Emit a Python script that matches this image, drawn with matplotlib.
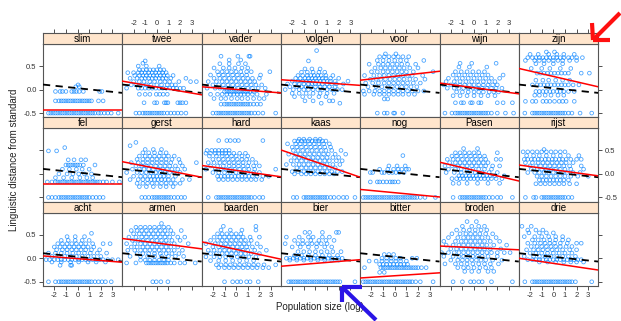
import matplotlib
matplotlib.use("Agg")
import matplotlib.pyplot as plt
from matplotlib.lines import Line2D

plt.rcParams['font.family'] = ['Liberation Sans', 'DejaVu Sans']
plt.rcParams['axes.unicode_minus'] = False

# panel order, row by row from the top
words = ["slim", "twee", "vader", "volgen", "voor", "wijn", "zijn",
         "fel", "gerst", "hard", "kaas", "nog", "Pasen", "rijst",
         "acht", "armen", "baarden", "bier", "bitter", "broden", "drie"]

# red fit per word: value at left and right edge of the x range
red_left = [-0.43, 0.18, 0.06, 0.21, 0.20, 0.14, 0.45,
            -0.21, 0.26, 0.18, 0.51, -0.33, 0.25, 0.19,
            0.05, 0.42, 0.35, -0.17, -0.42, 0.26, 0.00]
red_right = [-0.43, -0.11, -0.07, 0.09, 0.39, -0.09, 0.06,
             -0.21, -0.07, -0.06, -0.07, -0.49, -0.15, -0.04,
             -0.085, 0.20, -0.02, -0.03, -0.31, 0.18, -0.25]

# overall (dashed) fit, same in every panel
overall = [0.107, -0.07]

x_ticks = [-2, -1, 0, 1, 2, 3]
y_ticks = [-0.5, 0.0, 0.5]
y_tick_labels = ["-0.5", "0.0", "0.5"]

# points: rows of (distance, [population sizes])
slim_pts = [
    (-0.5, [-2.5, -2.3, -2.1, -1.9, -1.7, -1.5, -1.3, -1.1, -0.9, -0.7, -0.5, -0.3, -0.1, 0.1, 0.3, 0.5, 0.7, 0.9, 1.1, 1.3, 1.5, 1.8, 2.0, 2.3, 2.6, 2.9, 3.5]),
    (-0.24, [-1.9, -1.6, -1.4, -1.2, -1.0, -0.8, -0.6, -0.4, -0.2, 0.0, 0.2, 0.4, 0.6, 0.8, 1.0, 1.2, 1.8, 2.2]),
    (-0.04, [-1.9, -1.5, -1.3, -1.0, -0.5, -0.3, -0.1, 0.15, 0.5, 1.9, 2.1]),
    (0.06, [-0.15, 0.15]),
    (0.1, [0.05]),
]
twee_pts = [
    (-0.5, [-1.8, -1.5, -1.2, -1.0, -0.8, -0.6, -0.4, -0.2, 0.0, 0.2, 0.4, 0.6, 0.9, 1.2, 1.5, 1.8, 2.1, 2.5]),
    (-0.28, [-1.1, -0.2, 0.0, 0.65, 0.8, 0.95, 1.8, 2.0, 2.2, 2.5]),
    (-0.1, [-1.5, -1.0, -0.6, -0.05, 0.25, 0.55, 0.9]),
    (0.03, [-2.6, -1.6, -1.3, -1.0, -0.7, -0.4, -0.1, 0.2, 0.5, 0.8, 1.1, 1.4, 1.7, 2.0, 2.3]),
    (0.1, [-2.2, -1.8, -1.4, -0.9, -0.5, 0.0, 0.4, 0.9, 1.3, 1.6]),
    (0.17, [-2.0, -1.5, -1.1, -0.6, -0.2, 0.3, 0.7, 1.1, 1.9, 2.9, 3.4]),
    (0.24, [-2.3, -1.7, -1.3, -1.0, -0.7, -0.4, -0.1, 0.2, 0.5, 0.8, 1.2, 2.5]),
    (0.3, [-1.9, -1.5, -1.2, -0.9, -0.6, -0.3, 0.0, 0.3, 0.6, 0.9, 1.4]),
    (0.36, [-2.5, -2.0, -1.6, -1.3, -1.0, -0.7, -0.4, -0.1, 0.2, 0.5, 0.8]),
    (0.42, [-1.5, -1.2, -0.9, -0.6, -0.3, 0.0, 0.3, 0.6]),
    (0.5, [-1.6, -0.9, 0.2]),
    (0.56, [-1.2]),
    (0.61, [-1.0]),
]
vader_pts = [
    (-0.5, [-2.0, -1.7, -1.5, -1.3, -1.1, -0.9, -0.7, -0.5, -0.3, -0.1, 0.1, 0.3, 0.5, 0.7, 0.9, 1.1, 1.3, 1.6, 1.9, 2.3, 3.4]),
    (-0.31, [-1.3, -1.0, -0.8, -0.6, -0.4, -0.2, 0.0, 0.2, 0.4, 0.6, 0.8, 1.0, 1.2, 1.5, 1.8, 2.1]),
    (-0.19, [-1.9, -1.3, -0.9, -0.4, 0.1, 0.5, 1.0, 1.5, 2.0, 2.4]),
    (-0.1, [-2.2, -1.6, -1.2, -0.8, -0.5, -0.2, 0.1, 0.4, 0.7, 1.0, 1.4, 1.8, 2.6]),
    (-0.04, [-1.0, -0.8, -0.6, -0.4, -0.2, 0.0, 0.2, 0.4, 0.6, 0.8, 1.0, 1.2, 1.5]),
    (0.03, [-2.5, -1.8, -1.4, -1.0, -0.6, -0.2, 0.2, 0.6, 1.0, 1.4, 1.9, 2.5]),
    (0.1, [-2.0, -1.5, -1.1, -0.7, -0.3, 0.1, 0.5, 0.9, 1.3, 1.7, 2.2]),
    (0.17, [-2.4, -1.7, -1.2, -0.8, -0.4, 0.0, 0.4, 0.8, 1.2, 1.6]),
    (0.24, [-1.9, -1.4, -1.0, -0.6, -0.2, 0.2, 0.6, 1.0, 1.4, 2.0]),
    (0.31, [-2.2, -1.5, -1.1, -0.7, -0.3, 0.1, 0.5, 0.9, 2.1]),
    (0.38, [-1.6, -1.2, -0.8, -0.4, 0.0, 0.4, 0.9, 1.3, 2.9]),
    (0.46, [-1.9, -1.1, -0.6, -0.1, 0.5, 1.0]),
    (0.55, [-1.4, -0.6, 0.2, 0.8]),
    (0.63, [-0.6, 0.4]),
    (0.71, [-1.3, 0.15, 1.1, 1.2]),
]
volgen_pts = [
    (-0.29, [0.5, 2.1]),
    (-0.24, [-0.9, -0.2, 1.2, 1.5]),
    (-0.15, [-1.8, -1.1, -0.5, 0.3, 0.9]),
    (-0.08, [-2.0, -1.4, -0.8, -0.2, 0.4, 1.0, 1.6]),
    (0.0, [-2.6, -1.9, -1.4, -1.0, -0.6, -0.2, 0.2, 0.6, 1.0, 1.4, 1.9, 2.3]),
    (0.06, [-2.2, -1.6, -1.2, -0.8, -0.4, 0.0, 0.4, 0.8, 1.2, 1.7]),
    (0.12, [-2.4, -1.8, -1.4, -1.0, -0.6, -0.3, 0.0, 0.3, 0.6, 1.0, 1.4, 1.8, 2.4]),
    (0.18, [-2.0, -1.5, -1.1, -0.8, -0.5, -0.2, 0.1, 0.4, 0.7, 1.0, 1.3, 1.7, 2.8]),
    (0.24, [-1.7, -1.3, -0.9, -0.6, -0.3, 0.0, 0.3, 0.6, 0.9, 1.3, 2.0]),
    (0.3, [-1.5, -1.1, -0.7, -0.4, -0.1, 0.2, 0.5, 0.9, 1.5]),
    (0.37, [-1.2, -0.7, -0.2, 0.3, 0.8]),
    (0.44, [-0.9, -0.3, 0.4]),
    (0.61, [-0.6]),
    (0.83, [0.1]),
]
voor_pts = [
    (-0.5, [-1.5, -0.9, -0.65, -0.1, 0.0, 0.7]),
    (-0.2, [-0.9, -0.6]),
    (-0.1, [-2.6, -1.8, -1.3, -0.9, -0.5, -0.1, 0.3, 0.7, 1.2, 1.7]),
    (-0.03, [-2.7, -2.2, -1.7, -1.3, -0.9, -0.5, -0.1, 0.3, 0.7, 1.1, 1.5, 2.0, 2.5]),
    (0.06, [-2.3, -1.6, -1.1, -0.6, -0.2, 0.2, 0.6, 1.0, 1.4, 1.9]),
    (0.14, [-2.5, -1.9, -1.4, -0.9, -0.5, -0.1, 0.3, 0.7, 1.1, 1.6, 2.2]),
    (0.22, [-2.1, -1.6, -1.2, -0.8, -0.4, 0.0, 0.4, 0.8, 1.3, 1.8, 2.6]),
    (0.3, [-2.6, -1.8, -1.3, -0.9, -0.5, -0.1, 0.3, 0.7, 1.1, 1.5, 2.4]),
    (0.38, [-2.0, -1.5, -1.0, -0.6, -0.2, 0.2, 0.6, 1.0, 1.6, 3.3]),
    (0.46, [-1.7, -1.2, -0.8, -0.4, 0.0, 0.4, 0.8, 1.3, 2.0]),
    (0.54, [-2.2, -1.4, -1.0, -0.6, -0.2, 0.2, 0.6, 1.1, 1.8]),
    (0.62, [-1.5, -1.0, -0.5, 0.0, 0.5, 1.0, 2.5]),
    (0.7, [-1.3, -0.9, -0.5, -0.1, 0.3, 0.7, 1.2]),
    (0.76, [-0.8, 0.1]),
]
wijn_pts = [
    (-0.5, [-2.5, -1.9, -1.6, -1.4, -1.2, -1.0, -0.8, -0.6, -0.4, -0.2, 0.0, 0.2, 0.4, 0.6, 0.8, 1.0, 1.2, 1.5, 2.0, 2.7, 3.4]),
    (-0.28, [-1.6, -1.1, -0.9, -0.3, -0.15, 0.4, 0.6, 2.0, 2.5, 3.3]),
    (-0.13, [-1.8, -1.2, -0.6, 0.0, 0.6, 1.2, 1.8]),
    (-0.05, [-1.5, -1.0, -0.5, 0.0, 0.4, 0.8, 1.3, 1.7, 2.1]),
    (0.03, [-2.3, -1.7, -1.3, -0.9, -0.5, -0.1, 0.3, 0.7, 1.1, 1.5, 1.9, 2.4]),
    (0.1, [-2.6, -2.0, -1.6, -1.2, -0.8, -0.4, 0.0, 0.4, 0.8, 1.2, 1.6, 2.0]),
    (0.17, [-2.4, -1.7, -1.2, -0.7, -0.2, 0.3, 0.8, 1.3, 1.8]),
    (0.24, [-2.2, -1.5, -1.0, -0.5, 0.0, 0.5, 1.0, 1.5, 2.2]),
    (0.31, [-1.8, -1.3, -0.8, -0.3, 0.2, 0.7, 1.2, 2.5]),
    (0.38, [-1.6, -1.1, -0.6, -0.1, 0.4, 0.9]),
    (0.48, [-1.3, -0.4, 1.1]),
    (0.56, [-1.2, -0.2, 1.9]),
]
zijn_pts = [
    (-0.5, [-2.45, -1.8, -1.6, -1.4, -1.2, -1.0, -0.8, -0.6, -0.4, -0.2, 0.0, 0.2, 0.4, 0.6, 0.8, 1.0, 1.3, 1.6, 2.3, 3.3]),
    (-0.25, [-2.4, -1.8, -1.5, -0.9, -0.6, -0.3, 0.1, 0.5, 0.8, 1.1, 1.8]),
    (-0.12, [-1.6, -1.2, -0.7, -0.2, 0.4, 0.9]),
    (-0.04, [-1.5, -1.2, -0.9, -0.6, -0.3, 0.0, 0.3, 0.6, 0.9, 1.3, 1.8]),
    (0.1, [-1.8, -1.4, -1.1, -0.8, -0.5, -0.2, 0.1, 0.4, 0.7, 1.0, 1.3, 1.7, 2.2]),
    (0.2, [-1.5, -0.9, -0.4, 0.2, 0.8, 1.4]),
    (0.35, [-1.4, -1.1, -0.8, -0.5, -0.2, 0.1, 0.4, 0.7, 1.0, 1.3, 2.4, 3.1]),
    (0.45, [-1.9, -1.0, -0.3, 0.6, 1.5]),
    (0.55, [-1.5, -0.8, 0.0, 0.8]),
    (0.62, [-2.4, -1.6, -1.2, -0.8, -0.4, 0.0, 0.4, 0.8, 1.4, 2.0]),
    (0.68, [-2.2, -1.8, -1.5, -1.2, -0.9, -0.6, -0.3, 0.0, 0.3, 0.6, 0.9, 1.3, 1.6, 2.0, 2.5]),
    (0.75, [-2.0, -1.3, -0.4, 0.3, 0.9, 1.8]),
    (0.8, [-0.6, 0.1]),
]
fel_pts = [
    (-0.5, [-2.5, -2.2, -1.9, -1.6, -1.4, -1.2, -1.0, -0.8, -0.6, -0.4, -0.2, 0.0, 0.2, 0.4, 0.6, 0.8, 1.0, 1.3, 1.6, 1.9, 2.2]),
    (-0.17, [-2.6, -2.2, -1.9, -1.7, -1.5, -1.3, -1.1, -0.9, -0.7, -0.5, -0.3, -0.1, 0.1, 0.3, 0.5, 0.7, 0.9, 1.1, 1.3, 1.5, 1.7, 1.9, 2.2, 2.5, 3.0, 3.6]),
    (-0.08, [-1.9, -1.2, -0.5, 0.2, 0.8, 1.3]),
    (0.0, [-1.6, -0.9, -0.4, 0.1, 0.6, 1.2]),
    (0.1, [-1.3, -0.7, -0.1, 0.4, 1.0]),
    (0.19, [-1.0, -0.8, -0.6, -0.4, -0.2, 0.0, 0.2, 0.5, 1.5]),
    (0.3, [-0.8, -0.3, 0.3, 0.7]),
    (0.49, [-2.5, -1.8]),
    (0.56, [-1.1]),
]
gerst_pts = [
    (-0.5, [-1.3, -1.0, -0.7, -0.4, -0.2, 0.0, 0.2, 0.4, 0.6, 0.8, 1.0, 1.2, 1.5, 1.8, 2.1, 2.4]),
    (-0.27, [-1.5, -0.9, -0.3, 0.3, 0.8, 1.4]),
    (-0.2, [-1.7, -1.2, -0.8, -0.4, 0.0, 0.4, 0.8, 1.2, 1.6, 2.0]),
    (-0.12, [-2.3, -1.6, -1.2, -0.8, -0.5, -0.2, 0.1, 0.4, 0.7, 1.0, 1.4, 2.2, 2.8]),
    (-0.05, [-2.0, -1.4, -1.0, -0.6, -0.3, 0.0, 0.3, 0.6, 1.0, 1.6]),
    (0.03, [-2.6, -1.7, -1.3, -0.9, -0.5, -0.1, 0.3, 0.7, 1.1, 1.5, 2.0]),
    (0.1, [-2.1, -1.5, -1.1, -0.7, -0.3, 0.1, 0.5, 0.9, 1.3, 1.8, 2.4]),
    (0.17, [-1.8, -1.3, -0.9, -0.5, -0.1, 0.3, 0.7, 1.1, 1.6, 2.2]),
    (0.24, [-2.2, -1.6, -1.2, -0.8, -0.4, 0.0, 0.4, 0.8, 1.2, 2.0, 3.4]),
    (0.31, [-1.7, -1.2, -0.8, -0.4, 0.0, 0.4, 0.8, 1.3, 1.9]),
    (0.38, [-1.5, -1.0, -0.6, -0.2, 0.2, 0.6, 1.0, 1.5]),
    (0.45, [-1.2, -0.7, -0.2, 0.3, 0.8]),
    (0.52, [-1.0, -0.3, 0.4]),
    (0.6, [-2.3]),
    (0.67, [-1.8]),
]
hard_pts = [
    (-0.5, [-2.4, -1.7, -1.5, -1.3, -1.1, -0.9, -0.7, -0.5, -0.3, -0.1, 0.1, 0.3, 0.5, 0.7, 0.9, 1.1, 1.3, 1.6, 2.0, 2.3]),
    (-0.12, [-1.5, -1.1, -0.7, -0.3, 0.1, 0.5, 0.9, 1.3, 1.7, 2.2]),
    (-0.05, [-1.6, -1.3, -1.0, -0.7, -0.4, -0.1, 0.2, 0.5, 0.8, 1.1, 1.4, 1.8, 2.3, 2.8]),
    (0.03, [-2.0, -1.5, -1.0, -0.5, 0.0, 0.5, 1.0, 1.5, 2.0]),
    (0.1, [-2.6, -1.8, -1.3, -0.9, -0.5, -0.1, 0.3, 0.7, 1.1, 1.6, 3.4]),
    (0.17, [-2.2, -1.6, -1.1, -0.6, -0.2, 0.2, 0.6, 1.0, 1.5, 2.0]),
    (0.24, [-2.4, -1.9, -1.4, -1.0, -0.6, -0.2, 0.2, 0.6, 1.1, 1.7]),
    (0.31, [-2.0, -1.5, -1.1, -0.7, -0.3, 0.1, 0.5, 0.9, 1.4]),
    (0.38, [-2.3, -1.7, -1.2, -0.8, -0.4, 0.0, 0.5, 1.0]),
    (0.44, [-2.6, -2.2, -1.8, -1.5, -1.2, -0.9, -0.6, -0.2, 0.3, 0.8]),
    (0.5, [-2.5, -2.1, -1.8, -1.5, -1.2, -0.9, -0.6]),
    (0.71, [-1.5, -0.8, -0.5, -0.1, 0.2, 2.3]),
]
kaas_pts = [
    (-0.5, [-1.9, -1.6, -1.0, -0.8, -0.6, -0.4, -0.2, 0.0, 0.2, 0.4, 0.6, 0.8, 1.0, 1.3, 1.6, 2.0, 2.4, 2.7, 3.4]),
    (0.0, [-1.8, -1.2, -0.8, -0.4, 0.0, 0.4, 0.8, 1.2, 1.6]),
    (0.05, [-2.0, -1.5, -1.0, -0.6, -0.2, 0.2, 0.6, 1.0, 1.4, 1.9, 2.3]),
    (0.13, [-1.6, -1.2, -0.8, -0.4, 0.0, 0.4, 0.8, 1.2, 1.7]),
    (0.2, [-2.5, -1.9, -1.4, -1.0, -0.6, -0.2, 0.2, 0.6, 1.0, 1.5, 2.1]),
    (0.28, [-2.1, -1.6, -1.2, -0.8, -0.4, 0.0, 0.4, 0.8, 1.2, 1.8, 2.3]),
    (0.35, [-1.8, -1.4, -1.0, -0.6, -0.2, 0.2, 0.6, 1.0, 1.5, 2.0]),
    (0.42, [-2.3, -1.7, -1.3, -0.9, -0.5, -0.1, 0.3, 0.7, 1.1, 1.7, 2.6]),
    (0.5, [-1.9, -1.5, -1.1, -0.7, -0.3, 0.1, 0.5, 0.9, 1.4, 2.2]),
    (0.57, [-2.0, -1.6, -1.2, -0.8, -0.4, 0.0, 0.4, 0.8, 1.3]),
    (0.64, [-2.4, -1.7, -1.3, -0.9, -0.5, -0.1, 0.3, 0.7, 1.2]),
    (0.7, [-1.8, -1.5, -1.2, -0.9, -0.6, -0.3, 0.0, 0.3, 0.6, 0.9]),
    (0.74, [-1.4, -1.0, -0.5, 0.0, 0.4]),
]
nog_pts = [
    (-0.5, [-2.7, -2.5, -2.3, -2.1, -1.9, -1.7, -1.5, -1.3, -1.1, -0.9, -0.7, -0.5, -0.3, -0.1, 0.1, 0.3, 0.5, 0.7, 0.9, 1.1, 1.3, 1.5, 1.7, 1.9, 2.2, 2.6, 3.5]),
    (-0.17, [-2.1, -1.5, -1.3, -1.0, -0.7, -0.4, -0.2, 0.0, 0.3]),
    (0.03, [-2.1, -1.9, -1.1, -0.9, -0.5, -0.2, 0.1, 0.4, 0.8]),
    (0.1, [-1.3, -0.6, -0.1, 0.3, 0.6, 1.0, 1.2]),
    (0.17, [-0.5, 0.2, 0.9]),
    (0.39, [0.7]),
]
pasen_pts = [
    (-0.5, [-1.8, -1.2, -1.0, -0.8, -0.6, -0.4, -0.2, 0.0, 0.2, 0.4, 0.6, 0.8, 1.0, 1.3, 1.6, 2.0, 2.3, 3.3]),
    (-0.2, [-1.8, -1.3, -0.6, 0.3, 1.2, 2.2]),
    (-0.1, [-1.9, -1.5, -1.2, -0.9, -0.6, -0.3, 0.0, 0.3, 0.6, 0.9, 1.2, 1.5, 1.9, 2.4]),
    (-0.04, [-1.3, -1.0, -0.7, -0.4, -0.1, 0.2, 0.5, 0.8, 1.1, 1.4, 1.8, 2.6]),
    (0.03, [-2.4, -1.7, -1.1, -0.5, 0.1, 0.7, 1.3, 2.0]),
    (0.1, [-2.2, -1.6, -1.1, -0.6, -0.1, 0.4, 0.9, 1.5]),
    (0.17, [-2.5, -1.9, -1.4, -1.0, -0.6, -0.2, 0.2, 0.6, 1.0, 1.6, 2.2]),
    (0.24, [-2.1, -1.6, -1.2, -0.8, -0.4, 0.0, 0.4, 0.8, 1.2]),
    (0.31, [-2.3, -1.8, -1.4, -1.0, -0.6, -0.2, 0.2, 0.6, 1.0, 1.9, 2.3]),
    (0.38, [-1.9, -1.5, -1.1, -0.7, -0.3, 0.1, 0.5, 0.9]),
    (0.45, [-1.6, -1.2, -0.8, -0.4, 0.0, 0.4, 2.0]),
    (0.54, [-0.9, 0.3]),
]
rijst_pts = [
    (-0.5, [-2.4, -1.7, -1.5, -1.0, -0.8, -0.6, -0.4, -0.2, 0.0, 0.2, 0.4, 0.6, 0.8, 1.0, 1.3, 1.6]),
    (-0.21, [-1.5, -1.1, -0.7, -0.3, 0.1, 0.5, 0.9, 1.4, 2.0]),
    (-0.13, [-1.2, -0.9, -0.6, -0.3, 0.0, 0.3, 0.6, 0.9, 1.3]),
    (-0.05, [-1.4, -1.0, -0.6, -0.2, 0.2, 0.6, 1.0, 1.5, 2.1, 3.0]),
    (0.03, [-2.2, -1.6, -1.2, -0.8, -0.4, 0.0, 0.4, 0.8, 1.2, 1.7, 2.3]),
    (0.1, [-1.9, -1.4, -1.0, -0.6, -0.2, 0.2, 0.6, 1.0, 1.5, 2.6]),
    (0.17, [-2.0, -1.5, -1.1, -0.7, -0.3, 0.1, 0.5, 0.9, 1.4, 2.4]),
    (0.24, [-2.4, -1.8, -1.3, -0.9, -0.5, -0.1, 0.3, 0.7, 1.1, 1.7]),
    (0.31, [-2.5, -2.2, -1.9, -1.6, -1.3, -1.0, -0.7, -0.4, -0.1, 0.2, 0.5, 0.8, 1.1, 1.5, 2.0, 2.4]),
    (0.39, [-2.3, -1.7, -1.2, -0.6, 0.0, 0.6, 1.3, 2.2]),
    (0.47, [-2.6, -2.2, -1.8, -1.4, -1.0, -0.6, -0.2, 0.2, 0.6, 1.0]),
    (0.52, [-0.8]),
]
acht_pts = [
    (-0.5, [-2.5, -1.9, -1.6, -1.4, -1.2, -1.0, -0.8, -0.6, -0.4, -0.2, 0.0, 0.2, 0.4, 0.6, 0.8, 1.0, 1.2, 1.5, 1.8, 2.1, 2.4, 2.9]),
    (-0.15, [-1.5, -0.6, -0.5]),
    (-0.08, [-2.2, -1.4, -0.6, 0.1, 0.9, 1.6, 2.4]),
    (-0.03, [-2.7, -2.4, -2.0, -1.7, -1.4, -1.1, -0.8, -0.5, -0.2, 0.1, 0.4, 0.7, 1.0, 1.3, 1.6, 1.9, 2.2, 2.6, 3.0, 3.5]),
    (0.04, [-2.2, -1.6, -1.1, -0.6, -0.1, 0.4, 0.9, 1.4, 2.0]),
    (0.11, [-2.5, -1.9, -1.4, -0.9, -0.4, 0.1, 0.6, 1.1, 1.7, 2.5]),
    (0.18, [-1.8, -1.3, -0.9, -0.5, -0.1, 0.3, 0.7, 1.2, 1.9]),
    (0.24, [-2.0, -1.5, -1.1, -0.7, -0.3, 0.1, 0.5, 0.9, 1.4]),
    (0.31, [-1.7, -1.3, -0.9, -0.5, -0.1, 0.3, 0.7, 1.3, 2.2, 2.8]),
    (0.38, [-1.4, -0.8, -0.2, 0.4, 1.0]),
    (0.46, [-0.9, -0.2, 0.6]),
    (0.53, [1.2]),
]
armen_pts = [
    (-0.5, [-0.35, -0.05, 0.35, 0.95]),
    (-0.1, [-2.6, -1.8, -0.9, -0.7, -0.5, -0.3, -0.1, 0.1, 0.3, 0.5, 0.7, 0.9, 1.2, 1.5, 2.0, 2.4, 3.3]),
    (-0.04, [-1.4, -1.0, -0.6, -0.2, 0.2, 0.6, 1.0]),
    (0.04, [-2.3, -1.4, -0.8, -0.2, 0.4, 1.0, 1.6, 2.3]),
    (0.1, [-1.7, -1.2, -0.7, -0.2, 0.3, 0.8, 1.3, 1.9]),
    (0.17, [-2.5, -1.9, -1.4, -1.0, -0.6, -0.2, 0.2, 0.6, 1.0, 1.5, 2.2]),
    (0.24, [-2.2, -1.7, -1.2, -0.8, -0.4, 0.0, 0.4, 0.8, 1.2, 1.8]),
    (0.31, [-2.6, -1.9, -1.4, -1.0, -0.6, -0.2, 0.2, 0.6, 1.0, 1.5, 2.7]),
    (0.38, [-2.1, -1.6, -1.2, -0.8, -0.4, 0.0, 0.4, 0.8, 1.3, 2.0]),
    (0.45, [-2.4, -1.8, -1.3, -0.9, -0.5, -0.1, 0.3, 0.7, 1.1, 1.8, 2.4]),
    (0.52, [-2.0, -1.5, -1.1, -0.7, -0.3, 0.1, 0.5, 0.9, 1.4]),
    (0.59, [-2.2, -1.7, -1.3, -0.9, -0.5, -0.1, 0.3, 0.7, 1.2, 2.1]),
    (0.66, [-1.8, -1.4, -1.0, -0.6, -0.2, 0.2, 0.6, 1.0]),
    (0.74, [0.4]),
]
baarden_pts = [
    (-0.5, [-1.0, -0.3, 0.1, 0.4, 0.9, 1.2, 1.9]),
    (-0.2, [-1.5, -1.0, -0.6, -0.2, 0.2, 0.6, 1.0, 1.4, 1.8, 2.3, 2.8]),
    (-0.14, [-1.7, -1.3, -0.9, -0.5, -0.1, 0.3, 0.7, 1.1, 1.5, 1.9, 2.4, 3.4]),
    (-0.05, [-2.2, -1.5, -0.9, -0.3, 0.3, 0.9, 1.5]),
    (0.03, [-2.6, -1.9, -1.4, -0.9, -0.4, 0.1, 0.6, 1.1, 1.7]),
    (0.1, [-2.2, -1.7, -1.2, -0.8, -0.4, 0.0, 0.4, 0.8, 1.3, 2.0]),
    (0.17, [-2.4, -1.9, -1.4, -1.0, -0.6, -0.2, 0.2, 0.6, 1.0, 1.6, 2.6]),
    (0.24, [-2.0, -1.5, -1.1, -0.7, -0.3, 0.1, 0.5, 0.9, 1.4, 2.1]),
    (0.31, [-2.6, -1.8, -1.3, -0.9, -0.5, -0.1, 0.3, 0.7, 1.1, 1.8]),
    (0.38, [-2.2, -1.6, -1.2, -0.8, -0.4, 0.0, 0.4, 0.8, 1.3]),
    (0.45, [-1.9, -1.4, -1.0, -0.6, -0.2, 0.2, 0.6, 1.2, 2.0]),
    (0.52, [-1.6, -1.2, -0.8, -0.4, 0.0, 0.4]),
    (0.6, [-1.3, -0.5, 0.5, 1.7]),
    (0.68, [-1.1, 1.7]),
]
bier_pts = [
    (-0.5, [-2.3, -2.1, -1.9, -1.7, -1.5, -1.3, -1.1, -0.9, -0.7, -0.5, -0.3, -0.1, 0.1, 0.3, 0.5, 0.7, 0.9, 1.1, 1.3, 1.5, 1.7, 1.9, 2.1, 3.4]),
    (-0.04, [-2.2, -1.6, -1.0, -0.4, 0.2, 0.8, 1.4, 2.0]),
    (0.0, [-2.5, -2.2, -1.9, -1.6, -1.3, -1.0, -0.7, -0.4, -0.1, 0.2, 0.5, 0.8, 1.1, 1.4, 1.7, 2.0, 2.3]),
    (0.06, [-1.8, -1.2, -0.6, 0.0, 0.6, 1.2, 1.9]),
    (0.14, [-1.5, -1.0, -0.5, 0.0, 0.5, 1.0, 1.5, 2.2]),
    (0.24, [-2.0, -1.3, -0.6, 0.1, 0.8, 1.4]),
    (0.31, [-2.6, -1.5, -1.1, -0.7, -0.3, 0.1, 0.5, 1.0]),
    (0.38, [-1.8, -1.1, -0.4, 0.3, 0.9, 1.6]),
    (0.45, [-2.5, -1.4, -0.6, -0.2, 0.6, 1.2]),
    (0.55, [-0.9, -0.5, 0.6, 1.8, 2.0]),
]
bitter_pts = [
    (-0.5, [-2.7, -2.5, -2.3, -2.1, -1.9, -1.7, -1.5, -1.3, -1.1, -0.9, -0.7, -0.5, -0.3, -0.1, 0.1, 0.3, 0.5, 0.7, 0.9, 1.1, 1.3, 1.5, 1.8, 2.2, 3.3]),
    (-0.3, [-1.3, -0.9]),
    (-0.2, [-2.6, -1.2, -1.0, -0.8, -0.6, -0.4, -0.2, 0.0, 0.2, 0.4, 0.6, 0.8, 1.0, 1.2, 1.4, 1.6, 1.8, 2.0, 2.3, 2.7]),
    (-0.13, [-1.3, -1.0, -0.7, -0.4, -0.1, 0.2, 0.5, 0.8, 1.1]),
    (-0.06, [-2.2, -1.6, -1.1, -0.7, -0.3, 0.1, 0.5, 1.0]),
    (0.0, [-1.1, -0.7, -0.3, 0.1, 0.5, 1.5, 1.9]),
    (0.08, [-0.9, -0.5, -0.1]),
]
broden_pts = [
    (-0.5, [-1.8, -1.0, -0.3, 0.0, 0.4, 0.7, 1.5, 3.3]),
    (-0.28, [-0.8, -0.2, 0.4, 1.2, 1.7]),
    (-0.2, [-1.4, -0.9, -0.5, 0.0, 0.5, 1.0, 1.5]),
    (-0.12, [-2.5, -1.6, -1.1, -0.6, -0.1, 0.4, 0.9, 1.4, 2.1]),
    (-0.04, [-2.0, -1.4, -1.0, -0.6, -0.2, 0.2, 0.6, 1.0, 1.6, 2.4]),
    (0.04, [-2.6, -1.8, -1.3, -0.9, -0.5, -0.1, 0.3, 0.7, 1.2, 2.0]),
    (0.12, [-2.8, -2.2, -1.7, -1.3, -0.9, -0.5, -0.1, 0.3, 0.7, 1.1, 1.5, 2.0, 2.6, 3.1]),
    (0.2, [-2.0, -1.5, -1.1, -0.7, -0.3, 0.1, 0.5, 0.9, 1.4, 2.3]),
    (0.28, [-2.4, -1.8, -1.3, -0.9, -0.5, -0.1, 0.3, 0.7, 1.1, 1.7, 2.8]),
    (0.36, [-2.6, -1.6, -1.1, -0.7, -0.3, 0.1, 0.5, 0.9, 1.4, 2.2]),
    (0.44, [-2.2, -1.4, -0.9, -0.5, -0.1, 0.3, 0.7, 1.2, 1.9]),
    (0.52, [-1.9, -1.2, -0.7, -0.3, 0.1, 0.5, 1.0, 1.6]),
    (0.6, [-1.5, -0.9, -0.4, 0.1, 0.6, 1.1]),
    (0.68, [-1.0, -0.2, 0.4, 0.9]),
    (0.78, [-0.6, 0.2]),
]
drie_pts = [
    (-0.5, [-2.45, -1.8, -1.6, -1.4, -1.2, -1.0, -0.8, -0.6, -0.4, -0.2, 0.0, 0.2, 0.4, 0.6, 0.8, 1.0, 1.2, 1.4, 1.6, 1.9, 3.3]),
    (-0.08, [-1.2, -0.5, 0.2, 0.9, 1.5, 2.0, 2.6]),
    (-0.03, [-2.2, -1.8, -1.5, -1.2, -0.9, -0.6, -0.3, 0.0, 0.3, 0.6, 0.9, 1.2, 1.5, 1.8, 2.1, 2.4]),
    (0.04, [-2.5, -1.7, -1.2, -0.7, -0.2, 0.3, 0.8, 1.3, 1.9]),
    (0.11, [-2.0, -1.5, -1.0, -0.5, 0.0, 0.5, 1.0, 1.6]),
    (0.18, [-2.3, -1.7, -1.3, -0.9, -0.5, -0.1, 0.3, 0.8, 1.4, 2.0]),
    (0.25, [-1.9, -1.4, -1.0, -0.6, -0.2, 0.2, 0.6, 1.1, 1.6]),
    (0.32, [-2.2, -1.6, -1.1, -0.7, -0.3, 0.1, 0.6, 1.2, 2.0, 2.4]),
    (0.39, [-1.8, -1.3, -0.8, -0.3, 0.2, 0.8, 1.3]),
    (0.46, [-2.5, -1.6, -1.0, -0.4, 0.2, 0.8]),
    (0.54, [-2.1, -1.2, -0.6, 0.0]),
    (0.6, [-2.2, -1.5, -0.9]),
    (0.68, [-2.7, -1.9]),
]

points = {
    "slim": slim_pts, "twee": twee_pts, "vader": vader_pts, "volgen": volgen_pts,
    "voor": voor_pts, "wijn": wijn_pts, "zijn": zijn_pts,
    "fel": fel_pts, "gerst": gerst_pts, "hard": hard_pts, "kaas": kaas_pts,
    "nog": nog_pts, "Pasen": pasen_pts, "rijst": rijst_pts,
    "acht": acht_pts, "armen": armen_pts, "baarden": baarden_pts, "bier": bier_pts,
    "bitter": bitter_pts, "broden": broden_pts, "drie": drie_pts,
}

X_LIM = (-2.97, 3.85)
Y_LIM = (-0.59, 0.97)

W, H = 621, 321
fig = plt.figure(figsize=(W / 100, H / 100), dpi=100)

# layout in pixels
left0, col_w = 43, 79.3
top0, row_h, strip_h = 33, 84.33, 11

frame_col = '#555555'
tick_kw = dict(length=3, width=0.6, colors='#333333', labelsize=5.5, pad=1.5)

for i, word in enumerate(words):
    r, c = divmod(i, 7)
    x0 = (left0 + c * col_w) / W
    wdt = col_w / W
    strip_top = top0 + r * row_h
    panel_top = strip_top + strip_h
    panel_bot = strip_top + row_h

    ax = fig.add_axes([x0, 1 - panel_bot / H, wdt, (panel_bot - panel_top) / H])
    sx = fig.add_axes([x0, 1 - panel_top / H, wdt, strip_h / H])

    # scatter
    xs, ys = [], []
    for yv, xv in points[word]:
        xs += xv
        ys += [yv] * len(xv)
    ax.scatter(xs, ys, s=7, facecolors='none', edgecolors='#0080ff',
               linewidths=0.6, alpha=0.7, zorder=2)
    ax.plot(X_LIM, overall, color='black', lw=1.3, ls=(0, (4, 3)), zorder=3)
    ax.plot(X_LIM, [red_left[i], red_right[i]], color='red', lw=1.1, zorder=4)

    ax.set_xlim(*X_LIM)
    ax.set_ylim(*Y_LIM)
    for sp in ax.spines.values():
        sp.set_color(frame_col)
        sp.set_linewidth(0.8)

    # ticks lattice style: outer sides only, labels alternating
    ax.set_xticks(x_ticks)
    ax.set_yticks(y_ticks)
    ax.set_yticklabels(y_tick_labels)
    ax.tick_params(**tick_kw)
    ax.tick_params(axis='x', bottom=(r == 2), top=False,
                   labelbottom=(r == 2 and c % 2 == 0), labeltop=False)
    ax.tick_params(axis='y', left=(c == 0), right=(c == 6),
                   labelleft=(c == 0 and r != 1),
                   labelright=(c == 6 and r == 1))

    # strip
    sx.set_facecolor('#ffe5cc')
    sx.set_xlim(*X_LIM)
    sx.set_ylim(0, 1)
    sx.set_yticks([])
    for sp in sx.spines.values():
        sp.set_color(frame_col)
        sp.set_linewidth(0.8)
    sx.text(0.5, 0.45, word, transform=sx.transAxes, ha='center', va='center',
            fontsize=7, color='black')
    if r == 0:
        sx.set_xticks(x_ticks)
        sx.tick_params(**tick_kw)
        sx.tick_params(axis='x', top=True, bottom=False,
                       labeltop=(c % 2 == 1), labelbottom=False)
    else:
        sx.set_xticks([])

fig.text(14 / W, 1 - 160 / H, 'Linguistic distance from standard', rotation=90,
         ha='center', va='center', fontsize=7, color='#222222')
fig.text(320 / W, 1 - 307 / H, 'Population size (log)', ha='center', va='center',
         fontsize=7, color='#222222')

# hand-drawn arrows on the original picture
def pix(x, y):
    return x / W, 1 - y / H

red_arrow = [((620, 13), (593, 40)), ((593, 40), (592, 23)), ((593, 40), (610, 40))]
blue_arrow = [((376, 320), (342, 287)), ((342, 287), (362, 287)), ((342, 287), (342, 302))]
for segs, col in ((red_arrow, '#ff1010'), (blue_arrow, '#2a14e6')):
    for (a, b) in segs:
        (xa, ya), (xb, yb) = pix(*a), pix(*b)
        fig.add_artist(Line2D([xa, xb], [ya, yb], transform=fig.transFigure,
                              color=col, lw=3, solid_capstyle='butt', zorder=10))

fig.savefig('out.png', dpi=100)
